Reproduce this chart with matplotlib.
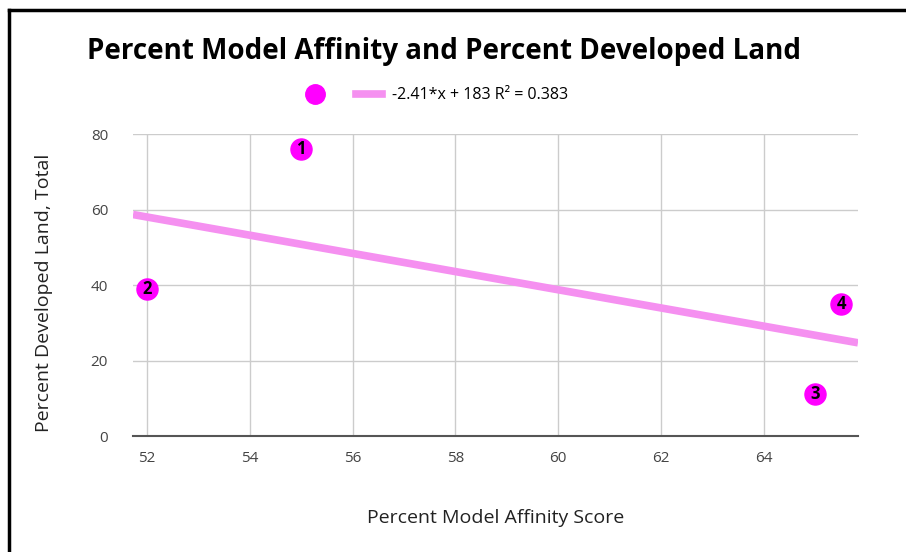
import matplotlib.pyplot as plt
from matplotlib.lines import Line2D
import numpy as np

plt.rcParams['font.family'] = ['Open Sans', 'DejaVu Sans']

# data
affinity = [55, 52, 65, 65.5]
developed = [76, 39, 11, 35]
point_labels = ["1", "2", "3", "4"]
x_ticks = [52, 54, 56, 58, 60, 62, 64]
y_ticks = [0, 20, 40, 60, 80]

slope, intercept = np.polyfit(affinity, developed, 1)
r = np.corrcoef(affinity, developed)[0, 1]
trend_label = f"{slope:.2f}*x + {intercept:.0f} R\u00b2 = {r**2:.3f}"

fig = plt.figure(figsize=(9.06, 5.52), dpi=100)
ax = fig.add_axes([0.1468, 0.2101, 0.8002, 0.5471])

xlim = (51.73, 65.83)
xs = np.array(xlim)
ax.plot(xs, slope * xs + intercept, color="#f590f0", lw=5.5, solid_capstyle="butt",
        zorder=2, label=trend_label)
ax.scatter(affinity, developed, s=230, color="#ff00ff", zorder=3)
for x, y, t in zip(affinity, developed, point_labels):
    ax.text(x, y, t, ha="center", va="center", fontsize=12, fontweight="bold",
            color="black", zorder=4)

ax.set_xlim(*xlim)
ax.set_ylim(0, 80)
ax.set_xticks(x_ticks)
ax.set_yticks(y_ticks)
ax.grid(True, color="#cccccc", lw=1)
ax.set_axisbelow(True)
for s in ["top", "right", "left"]:
    ax.spines[s].set_visible(False)
ax.spines["bottom"].set_color("#555555")
ax.spines["bottom"].set_linewidth(1.5)
ax.tick_params(length=0, labelsize=11, labelcolor="#444444")
ax.tick_params(axis="x", pad=11)
ax.tick_params(axis="y", pad=18)

ax.set_xlabel("Percent Model Affinity Score", fontsize=14, color="#222222")
ax.set_ylabel("Percent Developed Land, Total", fontsize=14, color="#222222")
ax.xaxis.set_label_coords(0.50, -0.24)
ax.yaxis.set_label_coords(-0.11, 0.475)

fig.text(0.49, 0.907, "Percent Model Affinity and Percent Developed Land",
         ha="center", va="center", fontsize=20, fontweight="bold")

handles = [
    Line2D([], [], marker="o", ls="", color="#ff00ff", markersize=14),
    Line2D([], [], color="#f590f0", lw=5.5),
]
fig.legend(handles, ["", trend_label], loc="center", bbox_to_anchor=(0.48, 0.827),
           ncol=2, frameon=False, fontsize=11.5, handlelength=1.6, columnspacing=1.2,
           handletextpad=0.6)

# frame lines from the screenshot
fig.add_artist(Line2D([0.010, 1.0], [0.982, 0.982], color="black", lw=2.5,
                      transform=fig.transFigure))
fig.add_artist(Line2D([0.010, 0.010], [0.0, 0.982], color="black", lw=2.5,
                      transform=fig.transFigure))

fig.savefig("out.png", dpi=100)
